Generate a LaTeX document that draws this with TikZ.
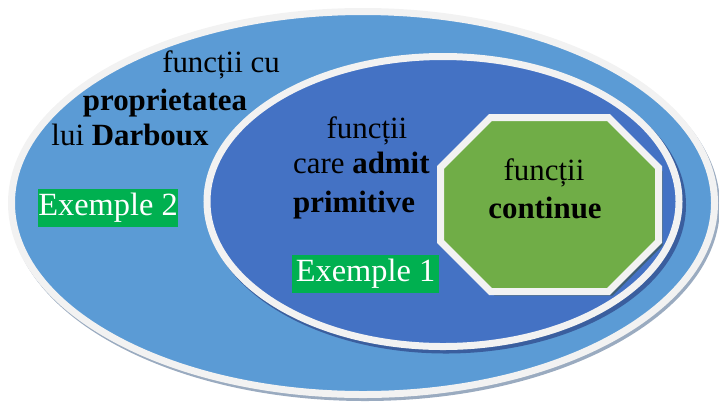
\documentclass[tikz,border=0pt]{standalone}
\usepackage{fontspec}
\setmainfont{Liberation Serif}
\definecolor{outerblue}{HTML}{5B9BD5}
\definecolor{innerblue}{HTML}{4472C4}
\definecolor{rimgray}{HTML}{F2F2F2}
\definecolor{exgreen}{HTML}{00B050}
\definecolor{octgreen}{HTML}{70AD47}
\definecolor{shadeout}{HTML}{9AABC0}
\definecolor{shadein}{HTML}{3A5E9E}
\definecolor{shadeoct}{HTML}{3F5F75}
\begin{document}
\begin{tikzpicture}[x=1bp,y=-1bp,
  rim/.style={draw=rimgray,line width=7bp},
  lbl/.style={inner sep=0pt,anchor=base,font=\fontsize{31}{37}\selectfont},
  exbox/.style={fill=exgreen,text=white,inner sep=0pt,minimum height=38bp,font=\fontsize{32.5}{38}\selectfont}]
\useasboundingbox (0,0) rectangle (719,405);
% outer ellipse
\fill[shadeout] (365,206) ellipse [x radius=355bp,y radius=195bp];
\filldraw[rim,fill=outerblue] (363,203) ellipse [x radius=351.5bp,y radius=191.5bp];
% inner ellipse
\fill[shadein] (446,205) ellipse [x radius=240bp,y radius=148.5bp];
\filldraw[rim,fill=innerblue] (443,201.5) ellipse [x radius=236bp,y radius=145bp];
% octagon
\fill[shadeoct] (494.5,121.5) -- (612.5,121.5) -- (662.5,171.5) -- (662.5,245.5) -- (612.5,295.5) -- (494.5,295.5) -- (444.5,245.5) -- (444.5,171.5) -- cycle;
\filldraw[rim,fill=octgreen,line join=miter] (490.5,117.5) -- (608.5,117.5) -- (658.5,167.5) -- (658.5,241.5) -- (608.5,291.5) -- (490.5,291.5) -- (440.5,241.5) -- (440.5,167.5) -- cycle;
% outer texts
\node[lbl] (o1) at (221,72) {funcții cu};
\node[lbl] (o2) at (165,110) {\bfseries proprietatea};
\node[lbl] (o3) at (130,145) {lui \bfseries Darboux};
\node[exbox,minimum width=138bp] (ex2) at (108,208) {Exemple 2};
% inner texts
\node[lbl] (i1) at (367,138) {funcții};
\node[lbl,anchor=base west] (i2) at (293,173) {care \bfseries admit};
\node[lbl,anchor=base west] (i3) at (293,212) {\bfseries primitive};
\node[exbox,minimum width=147bp] (ex1) at (365.5,273.5) {Exemple 1};
% octagon texts
\node[lbl] (c1) at (544,180) {funcții};
\node[lbl] (c2) at (545,218) {\bfseries continue};
\end{tikzpicture}
\end{document}
